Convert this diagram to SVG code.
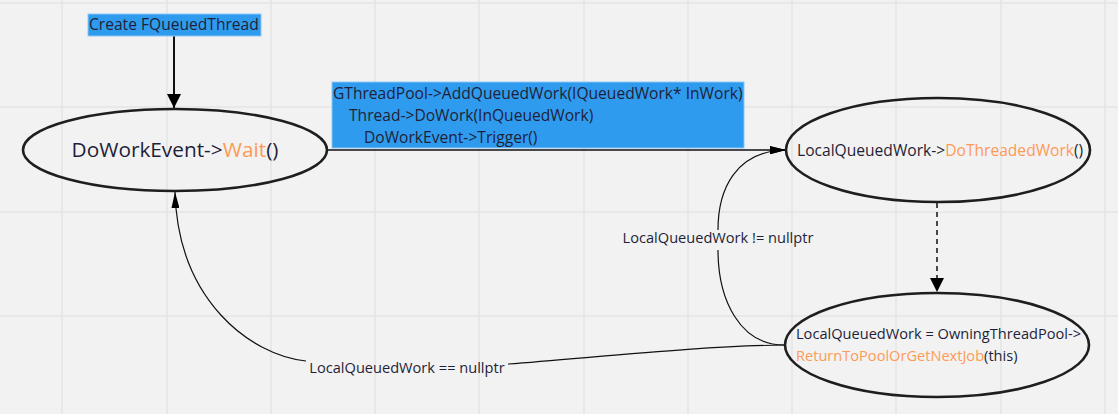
<svg xmlns="http://www.w3.org/2000/svg" width="1118" height="414" viewBox="0 0 1118 414">
<style>
.grid line{stroke:#e5e5e5;stroke-width:1.5}
.node ellipse{fill:none;stroke:#1e1e1e;stroke-width:2.6}
.t{font-family:"Open Sans","Liberation Sans",sans-serif;fill:#1f1f38;font-size:15.6px}
.s{font-size:14.6px}
.o{fill:#ff9a55}
.box{fill:#2f9bef;stroke:#8cc7f5;stroke-width:1}
.conn path{fill:none;stroke:#111}
</style>
<defs>
<marker id="big" viewBox="0 0 14 14" refX="14" refY="7" markerWidth="14" markerHeight="14" markerUnits="userSpaceOnUse" orient="auto"><path d="M0,0 L14,7 L0,14 Z" fill="#000"/></marker>
<marker id="slim" viewBox="0 0 16 8" refX="16" refY="4" markerWidth="16" markerHeight="8" markerUnits="userSpaceOnUse" orient="auto"><path d="M0,0 L16,4 L0,8 Z" fill="#000"/></marker>
</defs>
<rect width="1118" height="414" fill="#f2f2f2"/>
<g class="grid">
<line x1="62" y1="0" x2="62" y2="414"/><line x1="167" y1="0" x2="167" y2="414"/><line x1="271" y1="0" x2="271" y2="414"/><line x1="375" y1="0" x2="375" y2="414"/><line x1="479" y1="0" x2="479" y2="414"/><line x1="584" y1="0" x2="584" y2="414"/><line x1="688" y1="0" x2="688" y2="414"/><line x1="792" y1="0" x2="792" y2="414"/><line x1="896" y1="0" x2="896" y2="414"/><line x1="1001" y1="0" x2="1001" y2="414"/><line x1="1105" y1="0" x2="1105" y2="414"/>
<line x1="0" y1="3" x2="1118" y2="3"/><line x1="0" y1="107" x2="1118" y2="107"/><line x1="0" y1="212" x2="1118" y2="212"/><line x1="0" y1="316" x2="1118" y2="316"/>
</g>
<g class="conn">
<path d="M174,36 L174,108" stroke-width="2" marker-end="url(#big)"/>
<path d="M327,150 L786,150" stroke-width="1.5" marker-end="url(#slim)"/>
<path d="M937,203 L937,292" stroke-width="1.5" stroke-dasharray="5,4" marker-end="url(#big)"/>
<path d="M784,345 C740,345 718,300 718,250 M718,230 C718,190 735,151 786,150" stroke-width="1.2" marker-end="url(#slim)"/>
<path d="M784,345 C700,346 600,357 508,364 M306,361 C250,355 178,300 175,192" stroke-width="1.2" marker-end="url(#slim)"/>
</g>
<g id="label-create">
<rect class="box" x="88" y="14" width="173" height="22"/>
<text class="t" x="89" y="30">Create FQueuedThread</text>
</g>
<g id="label-add">
<rect class="box" x="332" y="82" width="412" height="66"/>
<text class="t"><tspan x="333" y="99">GThreadPool-&gt;AddQueuedWork(IQueuedWork* InWork)</tspan><tspan x="349" y="121">Thread-&gt;DoWork(InQueuedWork)</tspan><tspan x="364" y="143">DoWorkEvent-&gt;Trigger()</tspan></text>
</g>
<g id="node-wait" class="node">
<ellipse cx="175" cy="150" rx="152" ry="41"/>
<text class="t" x="175" y="157" style="font-size:20.8px" text-anchor="middle">DoWorkEvent-&gt;<tspan class="o">Wait</tspan>()</text>
</g>
<g id="node-dothreadedwork" class="node">
<ellipse cx="938" cy="150" rx="152" ry="52"/>
<text class="t" x="797" y="156">LocalQueuedWork-&gt;<tspan class="o">DoThreadedWork</tspan>()</text>
</g>
<g id="node-return" class="node">
<ellipse cx="937" cy="345" rx="152" ry="52"/>
<text class="t s"><tspan x="796" y="339">LocalQueuedWork = OwningThreadPool-&gt;</tspan><tspan x="796" y="361"><tspan class="o">ReturnToPoolOrGetNextJob</tspan>(this)</tspan></text>
</g>
<g id="label-notnull">
<text class="t s" x="718" y="243" text-anchor="middle">LocalQueuedWork != nullptr</text>
</g>
<g id="label-null">
<text class="t s" x="407" y="373" text-anchor="middle">LocalQueuedWork == nullptr</text>
</g>
</svg>
